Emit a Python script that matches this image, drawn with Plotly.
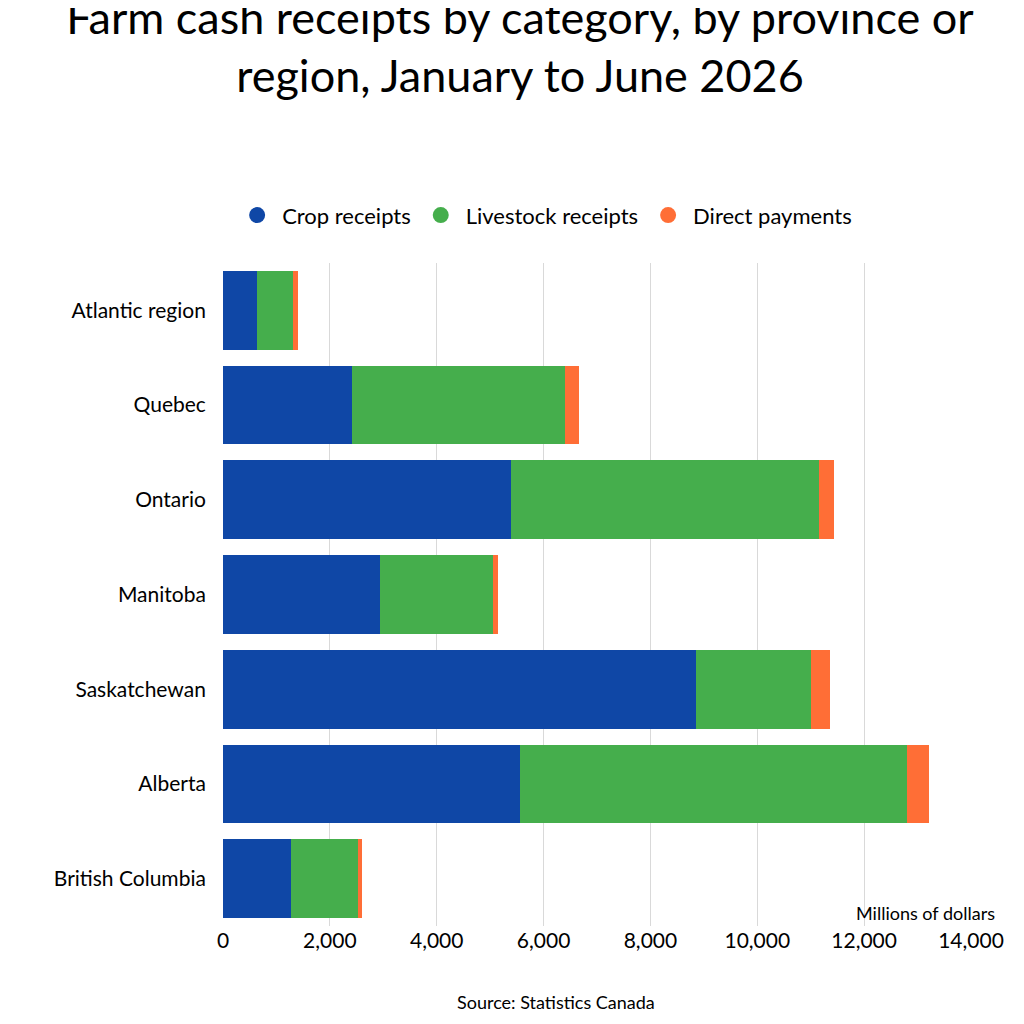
import plotly.graph_objects as go

regions = ["Atlantic region", "Quebec", "Ontario", "Manitoba", "Saskatchewan", "Alberta", "British Columbia"]
crop = [640, 2410, 5390, 2940, 8850, 5560, 1270]
livestock = [670, 3990, 5760, 2110, 2150, 7240, 1255]
direct = [95, 260, 280, 95, 355, 410, 75]

series = [
    ("Crop receipts", crop, "#0f47a6"),
    ("Livestock receipts", livestock, "#45ae4c"),
    ("Direct payments", direct, "#ff6e36"),
]

fig = go.Figure()
for name, vals, col in series:
    fig.add_trace(go.Bar(y=regions, x=vals, orientation="h", name=name,
                         marker=dict(color=col, line=dict(width=0)), showlegend=False))
# circle markers for the legend
for name, vals, col in series:
    fig.add_trace(go.Scatter(x=[None], y=[None], mode="markers", name=name,
                             marker=dict(color=col, size=30, symbol="circle")))

fig.update_layout(
    width=1024, height=1024,
    barmode="stack", bargap=0.17,
    plot_bgcolor="white", paper_bgcolor="white",
    font=dict(family="Lato, Open Sans, sans-serif", size=21, color="#000"),
    title=dict(text="Farm cash receipts by category, by province or<br>region, January to June 2026",
               x=0.5, xanchor="center", y=0.975, yanchor="top",
               font=dict(size=45)),
    margin=dict(l=215, r=61, t=255, b=106),
    legend=dict(orientation="h", x=0.43, xanchor="center", y=1.072, yanchor="middle",
                font=dict(size=22), itemwidth=40, traceorder="normal"),
    xaxis=dict(range=[0, 14000], dtick=2000, tickformat=",", showgrid=True,
               gridcolor="#d9d9d9", zeroline=False, ticks="", tickfont=dict(size=21),
               automargin=False),
    yaxis=dict(autorange="reversed", ticks="", ticklen=0, tickfont=dict(size=21),
               showline=False, automargin=False, ticksuffix="   "),
    annotations=[
        dict(text="Millions of dollars", xref="paper", yref="paper", x=1.035, y=0.0,
             xanchor="right", yanchor="bottom", showarrow=False, font=dict(size=18)),
        dict(text="Source: Statistics Canada", xref="paper", yref="paper", x=0.445, y=-0.095,
             xanchor="center", yanchor="top", showarrow=False, font=dict(size=18)),
    ],
)
fig.write_html("out.html")
